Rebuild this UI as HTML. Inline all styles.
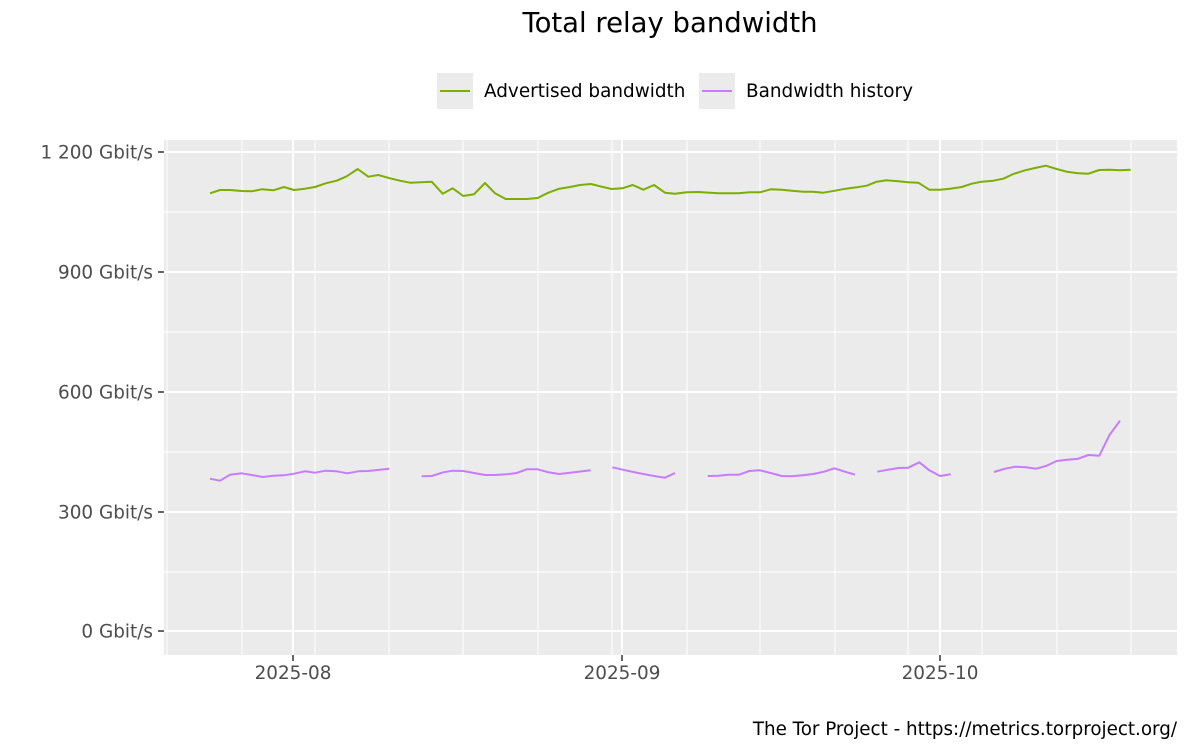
<!DOCTYPE html>
<html><head><meta charset="utf-8"><style>body{margin:0;background:#fff}svg{display:block}text{font-family:"DejaVu Sans","Liberation Sans",sans-serif}</style></head><body>
<svg width="1200" height="750" viewBox="0 0 1200 750">
<rect width="1200" height="750" fill="#fff"/>
<text x="670" y="32" font-size="27.5" text-anchor="middle" fill="#000">Total relay bandwidth</text>
<rect x="437" y="73" width="36" height="36" fill="#ebebeb"/>
<line x1="440" y1="91" x2="470" y2="91" stroke="#7cae00" stroke-width="2"/>
<text x="484" y="97" font-size="18.4" fill="#000">Advertised bandwidth</text>
<rect x="699" y="73" width="36" height="36" fill="#ebebeb"/>
<line x1="702" y1="91" x2="732" y2="91" stroke="#c77cff" stroke-width="2"/>
<text x="746" y="97" font-size="18.4" fill="#000">Bandwidth history</text>
<rect x="164" y="140" width="1013" height="515" fill="#ebebeb"/>
<g stroke="#fff" stroke-width="1">
<line x1="164" x2="1177" y1="212" y2="212"/><line x1="164" x2="1177" y1="332" y2="332"/><line x1="164" x2="1177" y1="452" y2="452"/><line x1="164" x2="1177" y1="572" y2="572"/>
<line y1="140" y2="655" x1="167" x2="167"/><line y1="140" y2="655" x1="242" x2="242"/><line y1="140" y2="655" x1="315" x2="315"/><line y1="140" y2="655" x1="389" x2="389"/><line y1="140" y2="655" x1="463" x2="463"/><line y1="140" y2="655" x1="538" x2="538"/><line y1="140" y2="655" x1="612" x2="612"/><line y1="140" y2="655" x1="687" x2="687"/><line y1="140" y2="655" x1="760" x2="760"/><line y1="140" y2="655" x1="835" x2="835"/><line y1="140" y2="655" x1="908" x2="908"/><line y1="140" y2="655" x1="982" x2="982"/><line y1="140" y2="655" x1="1057" x2="1057"/><line y1="140" y2="655" x1="1131" x2="1131"/>
</g>
<g stroke="#fff" stroke-width="2">
<line x1="164" x2="1177" y1="152" y2="152"/><line x1="164" x2="1177" y1="272" y2="272"/><line x1="164" x2="1177" y1="392" y2="392"/><line x1="164" x2="1177" y1="512" y2="512"/><line x1="164" x2="1177" y1="631" y2="631"/>
<line y1="140" y2="655" x1="293" x2="293"/><line y1="140" y2="655" x1="622" x2="622"/><line y1="140" y2="655" x1="940" x2="940"/>
</g>
<g stroke="#333" stroke-width="1.5">
<line x1="158" x2="164" y1="152" y2="152"/><line x1="158" x2="164" y1="272" y2="272"/><line x1="158" x2="164" y1="392" y2="392"/><line x1="158" x2="164" y1="512" y2="512"/><line x1="158" x2="164" y1="631" y2="631"/>
<line y1="655" y2="661" x1="293" x2="293"/><line y1="655" y2="661" x1="622" x2="622"/><line y1="655" y2="661" x1="940" x2="940"/>
</g>
<g font-size="18.4" fill="#4d4d4d" text-anchor="end">
<text x="153" y="158.5">1 200 Gbit/s</text><text x="153" y="278.5">900 Gbit/s</text><text x="153" y="398.5">600 Gbit/s</text><text x="153" y="518.5">300 Gbit/s</text><text x="153" y="637.5">0 Gbit/s</text>
</g>
<g font-size="18.4" fill="#4d4d4d" text-anchor="middle">
<text x="293" y="679">2025-08</text><text x="622" y="679">2025-09</text><text x="940" y="679">2025-10</text>
</g>
<text x="1177" y="735" font-size="18.3" text-anchor="end" fill="#000">The Tor Project - https://metrics.torproject.org/</text>
<g fill="none" stroke-width="2" stroke-linejoin="round">
<polyline stroke="#7cae00" points="210,193.3 220,190 230,190 241.7,191 251.7,191.3 261.7,189.3 273.3,190.3 284,187 294,190 305,188.7 315,187 325.7,183.3 336.7,180.7 346.7,176.3 357.7,169 368.3,176.7 378.3,175 390,178.3 400,180.7 410,182.7 431.7,181.7 442.7,193.7 452.7,188.3 463.3,196 474,194.3 485,183 495,193.3 505.7,199 526.7,199 537.7,198 548.3,192.7 559.3,188.7 570,187 580,185 591,184 601.7,186.7 611.7,189 622.3,188.3 632.7,185 643.3,189.7 654,185 665,192.7 675,193.7 686.7,192.3 698.3,192 718.3,193.3 738.3,193.3 750,192.3 760,192.3 770.7,189.3 781.7,189.7 791.7,190.7 803.3,191.7 813.3,191.7 823.3,192.7 835,190.7 845.7,188.7 856.7,187.3 866.7,185.7 876.7,181.7 886.7,180.3 898.3,181.3 908.3,182.3 918.3,182.7 929.3,189.7 940,189.7 950,188.7 961.7,187 971.7,183.7 981.7,181.7 993.3,180.7 1003.3,178.7 1013.3,174 1025,170.3 1035,168 1045.7,165.7 1056.7,169 1066.7,171.7 1078.3,173.3 1088.3,173.7 1099.3,170 1110,169.7 1120,170.3 1130.7,169.7"/>
<g stroke="#c77cff">
<polyline points="210,478.7 220,480.7 230,474.7 241.7,473.3 251.7,475 262.7,477 273.3,475.7 284,475.3 294,473.7 305,471.3 315,472.7 325.7,470.7 336.7,471.3 347.3,473.3 358.3,471.3 368.3,471 389.3,468.7"/>
<polyline points="421.7,476.3 431.7,476 443.3,472.3 452.7,470.7 463.3,471 474,473 485,475 495,475 506.7,474.3 516.7,473 526.7,469.3 537.7,469.3 548.3,472.3 559.3,474 570,472.7 590.7,470.3"/>
<polyline points="612.3,467.3 622.7,469.7 633.3,472 643.3,474 654,476 665,477.7 675,473"/>
<polyline points="707.7,476 718.3,475.7 728.3,474.7 739,474.7 749.3,471 760,470.3 770.7,473 781.7,476 791.7,476.3 802.7,475.3 813.3,474 824,471.7 834.3,468.3 845,471.7 855,474.7"/>
<polyline points="877.3,471.7 888.3,469.7 898.3,468 908.3,467.7 919.3,462.3 929.3,470.3 940,476 950.7,474.3"/>
<polyline points="994,472 1005,468.7 1015,466.7 1026,467.3 1036,468.7 1046,466 1056.7,461 1067.3,459.7 1078.3,458.7 1088.3,455 1099.3,455.7 1109.3,435.3 1120,420.7"/>
</g>
</g>
</svg>
</body></html>
